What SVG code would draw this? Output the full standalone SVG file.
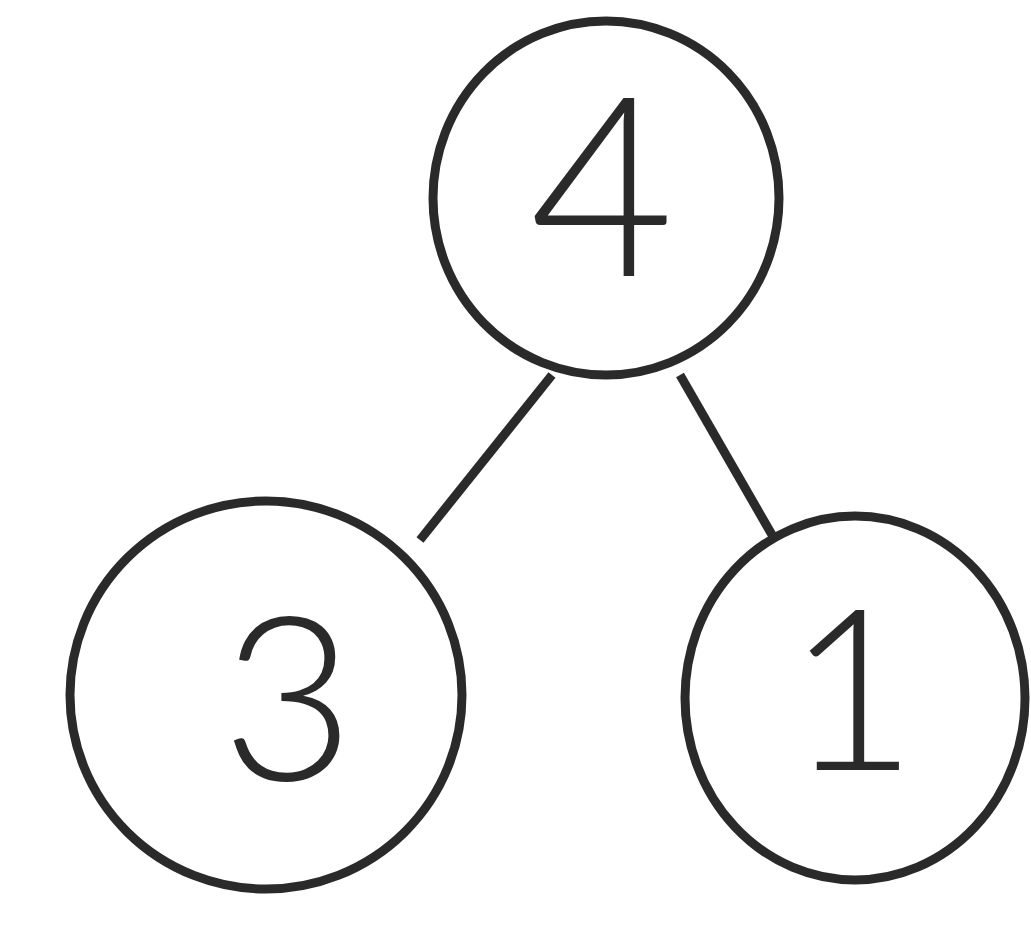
<svg xmlns="http://www.w3.org/2000/svg" width="1031" height="941" viewBox="0 0 1031 941">
<style>
.node ellipse{fill:none;stroke:#2a2a2a;stroke-width:9}
.edge{stroke:#2a2a2a;stroke-width:9;fill:none}
.lbl{font-family:Lato,"Open Sans","Liberation Sans",sans-serif;font-weight:300;fill:#2a2a2a;text-anchor:middle}
</style>
<rect width="1031" height="941" fill="#ffffff"/>
<g id="connectors">
<line class="edge" x1="552" y1="375" x2="420" y2="540"/>
<line class="edge" x1="680" y1="375" x2="775" y2="540"/>
</g>
<g id="node4" class="node">
<ellipse cx="606" cy="198" rx="173" ry="177"/>
<text class="lbl" x="602" y="276" font-size="250">4</text>
</g>
<g id="node3" class="node">
<ellipse cx="266" cy="695" rx="196" ry="194"/>
<text class="lbl" x="288" y="780" font-size="230">3</text>
</g>
<g id="node1" class="node">
<ellipse cx="855" cy="698" rx="170" ry="182"/>
<text class="lbl" x="852" y="770" font-size="225">1</text>
</g>
</svg>
